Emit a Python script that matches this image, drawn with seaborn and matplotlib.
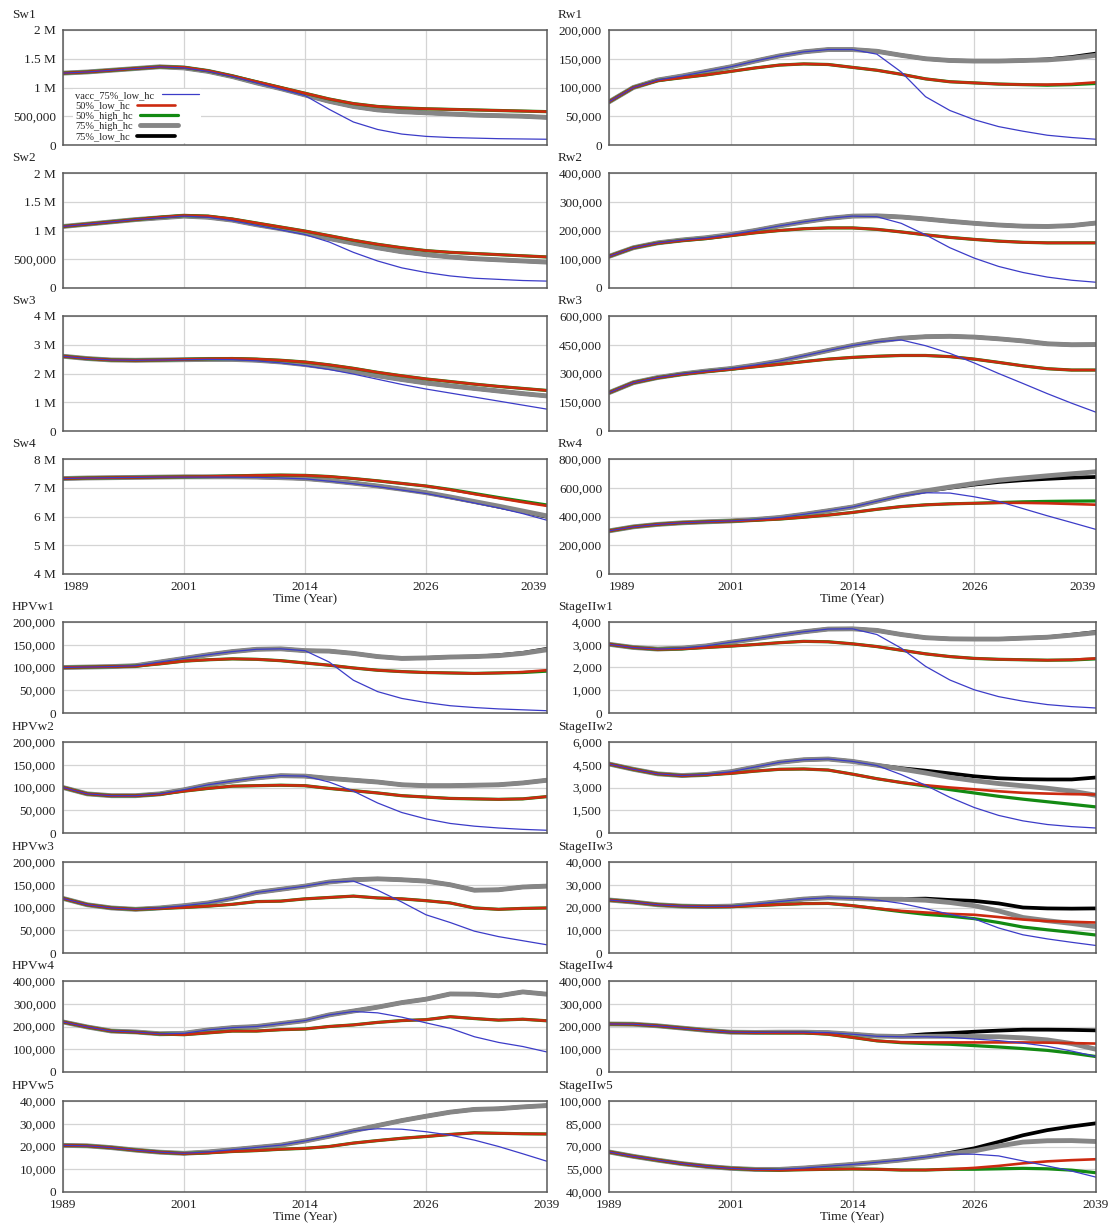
import numpy as np
import matplotlib
matplotlib.use("Agg")
import matplotlib.pyplot as plt
import seaborn as sns

# grille de temps (pas de 2.5 ans)
years = [1989, 1991.5, 1994, 1996.5, 1999, 2001.5, 2004, 2006.5, 2009, 2011.5, 2014,
         2016.5, 2019, 2021.5, 2024, 2026.5, 2029, 2031.5, 2034, 2036.5, 2039]
xtick_pos = [1989, 2001.5, 2014, 2026.5, 2039]
xtick_labels = ["1989", "2001", "2014", "2026", "2039"]

scenarios = ["vacc_75%_low_hc", "50%_low_hc", "50%_high_hc", "75%_high_hc", "75%_low_hc"]

# ---- Sw (millions)
sw1_vacc = [1.25, 1.27, 1.30, 1.33, 1.36, 1.34, 1.28, 1.19, 1.08, 0.97, 0.86, 0.62, 0.40, 0.27, 0.19, 0.15, 0.13, 0.12, 0.11, 0.105, 0.10]
sw1_l50 = [1.25, 1.27, 1.30, 1.33, 1.36, 1.35, 1.29, 1.20, 1.10, 1.00, 0.90, 0.80, 0.72, 0.67, 0.645, 0.63, 0.62, 0.61, 0.60, 0.59, 0.58]
sw1_h50 = sw1_l50
sw1_h75 = [1.25, 1.27, 1.30, 1.33, 1.36, 1.34, 1.28, 1.19, 1.08, 0.98, 0.87, 0.76, 0.67, 0.61, 0.58, 0.56, 0.54, 0.52, 0.51, 0.50, 0.48]
sw1_l75 = sw1_h75

sw2_vacc = [1.07, 1.11, 1.15, 1.19, 1.22, 1.25, 1.23, 1.17, 1.09, 1.01, 0.93, 0.80, 0.62, 0.47, 0.35, 0.27, 0.21, 0.17, 0.15, 0.13, 0.12]
sw2_l50 = [1.07, 1.11, 1.15, 1.19, 1.23, 1.26, 1.25, 1.20, 1.13, 1.06, 0.99, 0.91, 0.83, 0.76, 0.70, 0.65, 0.62, 0.60, 0.58, 0.56, 0.54]
sw2_h50 = sw2_l50
sw2_h75 = [1.07, 1.11, 1.15, 1.19, 1.22, 1.25, 1.23, 1.18, 1.10, 1.03, 0.95, 0.86, 0.78, 0.70, 0.63, 0.58, 0.54, 0.51, 0.49, 0.47, 0.45]
sw2_l75 = sw2_h75

sw3_vacc = [2.60, 2.52, 2.47, 2.46, 2.47, 2.48, 2.49, 2.48, 2.44, 2.37, 2.27, 2.14, 1.98, 1.80, 1.62, 1.46, 1.32, 1.18, 1.04, 0.90, 0.76]
sw3_l50 = [2.60, 2.52, 2.47, 2.46, 2.47, 2.49, 2.51, 2.52, 2.50, 2.46, 2.40, 2.30, 2.18, 2.04, 1.92, 1.81, 1.72, 1.63, 1.55, 1.48, 1.41]
sw3_h50 = sw3_l50
sw3_h75 = [2.60, 2.52, 2.47, 2.46, 2.47, 2.48, 2.49, 2.49, 2.46, 2.40, 2.31, 2.20, 2.07, 1.92, 1.79, 1.67, 1.57, 1.48, 1.39, 1.30, 1.22]
sw3_l75 = sw3_h75

sw4_vacc = [7.32, 7.34, 7.35, 7.36, 7.37, 7.37, 7.37, 7.37, 7.36, 7.34, 7.31, 7.23, 7.14, 7.04, 6.92, 6.80, 6.64, 6.47, 6.30, 6.10, 5.87]
sw4_l50 = [7.32, 7.34, 7.35, 7.36, 7.37, 7.38, 7.39, 7.41, 7.43, 7.44, 7.43, 7.39, 7.32, 7.24, 7.15, 7.06, 6.93, 6.78, 6.64, 6.50, 6.37]
sw4_h50 = [7.32, 7.34, 7.35, 7.36, 7.37, 7.38, 7.39, 7.41, 7.43, 7.44, 7.43, 7.39, 7.32, 7.24, 7.15, 7.06, 6.94, 6.80, 6.66, 6.53, 6.40]
sw4_h75 = [7.32, 7.34, 7.35, 7.36, 7.37, 7.38, 7.38, 7.38, 7.37, 7.35, 7.32, 7.25, 7.16, 7.06, 6.95, 6.83, 6.68, 6.52, 6.36, 6.19, 6.02]
sw4_l75 = [7.32, 7.34, 7.35, 7.36, 7.37, 7.38, 7.38, 7.38, 7.37, 7.35, 7.32, 7.25, 7.16, 7.06, 6.95, 6.83, 6.67, 6.51, 6.34, 6.17, 5.99]

# ---- Rw (milliers)
rw1_vacc = [75, 100, 113, 120, 128, 136, 146, 155, 162, 166, 166, 158, 127, 84, 60, 44, 32, 24, 17, 13, 10]
rw1_l50 = [75, 100, 112, 117, 122, 128, 134, 139, 141, 140, 135, 130, 123, 115, 110, 108, 106, 105, 105, 106, 109]
rw1_h50 = [75, 100, 112, 117, 122, 128, 134, 139, 141, 140, 135, 130, 123, 115, 110, 108, 106, 105, 104, 105, 107]
rw1_h75 = [75, 100, 113, 120, 128, 136, 146, 155, 162, 166, 166, 163, 156, 150, 147, 146, 146, 147, 148, 151, 156]
rw1_l75 = [75, 100, 113, 120, 128, 136, 146, 155, 162, 166, 166, 163, 156, 150, 147, 146, 146, 147, 149, 153, 159]

rw2_vacc = [110, 140, 157, 167, 175, 186, 200, 216, 230, 242, 250, 248, 225, 185, 140, 104, 75, 54, 38, 27, 20]
rw2_l50 = [110, 140, 156, 165, 172, 182, 192, 200, 206, 209, 209, 204, 195, 185, 176, 169, 163, 159, 157, 157, 157]
rw2_h50 = rw2_l50
rw2_h75 = [110, 140, 157, 167, 175, 186, 200, 216, 230, 242, 250, 251, 247, 240, 232, 225, 219, 215, 214, 217, 226]
rw2_l75 = rw2_h75

rw3_vacc = [200, 252, 279, 298, 313, 326, 344, 365, 392, 420, 446, 466, 475, 445, 405, 355, 300, 248, 195, 145, 98]
rw3_l50 = [200, 252, 278, 296, 310, 322, 335, 348, 362, 375, 384, 390, 394, 394, 388, 375, 358, 340, 325, 318, 318]
rw3_h50 = rw3_l50
rw3_h75 = [200, 252, 279, 298, 313, 326, 344, 365, 392, 420, 446, 468, 484, 492, 494, 490, 481, 470, 455, 450, 451]
rw3_l75 = rw3_h75

rw4_vacc = [300, 328, 345, 356, 363, 369, 379, 393, 415, 440, 466, 506, 543, 565, 563, 537, 505, 455, 405, 358, 310]
rw4_l50 = [300, 328, 345, 356, 363, 368, 374, 382, 395, 410, 428, 450, 469, 481, 488, 492, 495, 495, 492, 487, 482]
rw4_h50 = [300, 328, 345, 356, 363, 368, 374, 382, 395, 410, 428, 450, 469, 481, 488, 492, 497, 502, 505, 507, 508]
rw4_h75 = [300, 328, 345, 356, 363, 369, 379, 393, 415, 440, 466, 506, 545, 578, 605, 630, 652, 668, 683, 697, 711]
rw4_l75 = [300, 328, 345, 356, 363, 369, 379, 393, 415, 440, 466, 506, 545, 576, 600, 622, 640, 653, 662, 670, 675]

# ---- HPVw (milliers)
hpv1_vacc = [100, 101, 102, 104, 112, 120, 128, 135, 140, 141, 137, 112, 72, 47, 32, 23, 16, 12, 9, 7, 5]
hpv1_l50 = [100, 101, 102, 103, 108, 114, 117, 119, 118, 115, 110, 105, 99, 94, 91, 89, 88, 87, 88, 90, 94]
hpv1_h50 = [100, 101, 102, 103, 108, 114, 117, 119, 118, 115, 110, 105, 99, 94, 91, 89, 88, 87, 88, 89, 92]
hpv1_h75 = [100, 101, 102, 104, 112, 120, 128, 135, 140, 141, 137, 136, 131, 124, 120, 121, 123, 124, 126, 131, 139]
hpv1_l75 = [100, 101, 102, 104, 112, 120, 128, 135, 140, 141, 137, 136, 131, 124, 120, 121, 123, 124, 127, 132, 141]

hpv2_vacc = [100, 86, 82, 82, 86, 95, 106, 114, 121, 126, 125, 112, 92, 66, 45, 31, 21, 15, 11, 8, 6]
hpv2_l50 = [100, 86, 82, 82, 85, 92, 98, 103, 104, 105, 104, 98, 93, 88, 82, 79, 76, 75, 74, 75, 80]
hpv2_h50 = hpv2_l50
hpv2_h75 = [100, 86, 82, 82, 86, 95, 106, 114, 121, 126, 125, 120, 116, 112, 106, 104, 104, 105, 106, 110, 116]
hpv2_l75 = hpv2_h75

hpv3_vacc = [120, 106, 99, 96, 99, 104, 110, 120, 133, 140, 147, 156, 158, 138, 112, 84, 67, 48, 36, 27, 18]
hpv3_l50 = [120, 106, 99, 96, 98, 100, 103, 107, 113, 114, 119, 122, 125, 121, 119, 115, 110, 99, 96, 98, 99]
hpv3_h50 = hpv3_l50
hpv3_h75 = [120, 106, 99, 96, 99, 104, 110, 120, 133, 140, 147, 156, 161, 163, 161, 158, 150, 138, 139, 145, 147]
hpv3_l75 = hpv3_h75

hpv4_vacc = [220, 198, 180, 176, 168, 170, 185, 195, 200, 213, 226, 251, 266, 260, 241, 216, 192, 155, 130, 112, 88]
hpv4_l50 = [220, 198, 180, 175, 167, 164, 172, 180, 180, 186, 189, 200, 207, 218, 226, 230, 243, 235, 228, 232, 225]
hpv4_h50 = hpv4_l50
hpv4_h75 = [220, 198, 180, 176, 168, 170, 185, 195, 200, 213, 226, 251, 268, 285, 305, 320, 343, 342, 335, 352, 342]
hpv4_l75 = hpv4_h75

hpv5_vacc = [20.5, 20.3, 19.5, 18.4, 17.5, 17.0, 17.6, 18.6, 19.6, 20.6, 22.4, 24.5, 26.9, 27.8, 27.6, 26.5, 25.0, 22.8, 20.0, 16.8, 13.5]
hpv5_l50 = [20.5, 20.3, 19.5, 18.4, 17.5, 16.9, 17.2, 17.8, 18.2, 18.8, 19.2, 20.0, 21.5, 22.6, 23.6, 24.4, 25.3, 26.0, 25.8, 25.6, 25.5]
hpv5_h50 = hpv5_l50
hpv5_h75 = [20.5, 20.3, 19.5, 18.4, 17.5, 17.0, 17.6, 18.6, 19.6, 20.6, 22.4, 24.5, 26.9, 29.2, 31.4, 33.3, 35.1, 36.3, 36.6, 37.4, 38.0]
hpv5_l75 = hpv5_h75

# ---- StageIIw
st1_vacc = [3020, 2880, 2810, 2850, 2950, 3110, 3260, 3420, 3570, 3690, 3700, 3450, 2850, 2050, 1450, 1020, 720, 520, 370, 280, 220]
st1_l50 = [3020, 2880, 2800, 2820, 2880, 2940, 3010, 3090, 3150, 3130, 3040, 2920, 2760, 2600, 2480, 2400, 2360, 2340, 2320, 2340, 2400]
st1_h50 = [3020, 2880, 2800, 2820, 2880, 2940, 3010, 3090, 3150, 3130, 3040, 2920, 2760, 2600, 2480, 2400, 2360, 2340, 2320, 2330, 2380]
st1_h75 = [3020, 2880, 2810, 2850, 2950, 3110, 3260, 3420, 3570, 3690, 3700, 3630, 3450, 3310, 3260, 3250, 3250, 3290, 3330, 3420, 3530]
st1_l75 = [3020, 2880, 2810, 2850, 2950, 3110, 3260, 3420, 3570, 3690, 3700, 3630, 3450, 3310, 3260, 3250, 3250, 3290, 3330, 3440, 3560]

st2_vacc = [4550, 4200, 3900, 3790, 3860, 4040, 4350, 4660, 4830, 4880, 4720, 4450, 3850, 3150, 2350, 1680, 1160, 800, 560, 420, 330]
st2_l50 = [4550, 4200, 3900, 3780, 3840, 3930, 4080, 4200, 4220, 4150, 3880, 3580, 3330, 3150, 3000, 2880, 2750, 2650, 2600, 2560, 2540]
st2_h50 = [4550, 4200, 3900, 3780, 3840, 3930, 4080, 4200, 4220, 4150, 3880, 3580, 3330, 3100, 2860, 2640, 2420, 2230, 2060, 1890, 1720]
st2_h75 = [4550, 4200, 3900, 3790, 3860, 4040, 4350, 4660, 4830, 4880, 4720, 4470, 4220, 3960, 3670, 3450, 3260, 3110, 2950, 2760, 2490]
st2_l75 = [4550, 4200, 3900, 3790, 3860, 4040, 4350, 4660, 4830, 4880, 4720, 4470, 4270, 4110, 3930, 3740, 3610, 3550, 3530, 3530, 3660]

st3_vacc = [23.3, 22.4, 21.2, 20.6, 20.4, 20.6, 21.5, 22.6, 23.7, 24.3, 24.0, 23.3, 21.8, 19.5, 17.0, 15.0, 11.0, 8.0, 6.2, 4.7, 3.3]
st3_l50 = [23.3, 22.4, 21.2, 20.6, 20.4, 20.4, 20.8, 21.3, 21.7, 21.8, 20.8, 19.6, 18.5, 17.8, 17.2, 16.8, 15.8, 14.7, 14.0, 13.7, 13.4]
st3_h50 = [23.3, 22.4, 21.2, 20.6, 20.4, 20.4, 20.8, 21.3, 21.7, 21.8, 20.8, 19.5, 18.2, 17.0, 16.2, 15.1, 13.4, 11.4, 10.2, 9.1, 7.9]
st3_h75 = [23.3, 22.4, 21.2, 20.6, 20.4, 20.6, 21.5, 22.6, 23.7, 24.3, 24.0, 23.6, 23.6, 23.2, 22.2, 20.8, 18.5, 15.6, 14.2, 13.0, 11.6]
st3_l75 = [23.3, 22.4, 21.2, 20.6, 20.4, 20.6, 21.5, 22.6, 23.7, 24.3, 24.0, 23.6, 23.7, 23.9, 23.3, 22.9, 21.8, 20.0, 19.6, 19.5, 19.6]

st4_vacc = [211, 210, 203, 193, 183, 175, 174, 175, 175, 173, 166, 157, 155, 155, 152, 145, 138, 127, 113, 92, 68]
st4_l50 = [211, 210, 203, 193, 183, 175, 173, 172, 172, 166, 152, 137, 131, 130, 130, 130, 130, 130, 129, 127, 125]
st4_h50 = [211, 210, 203, 193, 183, 175, 173, 172, 172, 166, 152, 137, 129, 125, 122, 116, 110, 103, 95, 83, 68]
st4_h75 = [211, 210, 203, 193, 183, 175, 174, 175, 175, 173, 166, 158, 156, 157, 157, 156, 155, 150, 141, 125, 100]
st4_l75 = [211, 210, 203, 193, 183, 175, 174, 175, 175, 173, 166, 158, 158, 166, 171, 177, 182, 186, 186, 185, 183]

st5_vacc = [66.4, 63.5, 61.0, 58.7, 56.9, 55.6, 54.9, 54.9, 55.8, 57.0, 58.2, 59.6, 61.1, 63.0, 65.0, 64.9, 63.8, 60.5, 57.2, 53.8, 49.8]
st5_l50 = [66.4, 63.5, 61.0, 58.7, 56.9, 55.6, 54.8, 54.4, 54.7, 55.0, 55.2, 55.0, 54.5, 54.5, 55.0, 55.9, 57.2, 58.9, 60.2, 61.0, 61.6]
st5_h50 = [66.4, 63.5, 61.0, 58.7, 56.9, 55.6, 54.8, 54.4, 54.7, 55.0, 55.2, 55.0, 54.5, 54.5, 55.0, 55.0, 55.3, 55.6, 55.3, 54.4, 52.7]
st5_h75 = [66.4, 63.5, 61.0, 58.7, 56.9, 55.6, 54.9, 54.9, 55.8, 57.0, 58.2, 59.6, 61.1, 63.0, 65.2, 67.1, 70.3, 72.9, 73.8, 73.9, 73.3]
st5_l75 = [66.4, 63.5, 61.0, 58.7, 56.9, 55.6, 54.9, 54.9, 55.8, 57.0, 58.2, 59.6, 61.1, 63.0, 65.8, 68.8, 73.0, 77.4, 80.8, 83.2, 85.3]

# (titre, unite, ymin, ymax, series dans l'ordre de la legende)
panels_top = [
    [("Sw1", 1e6, 0, 2, [sw1_vacc, sw1_l50, sw1_h50, sw1_h75, sw1_l75]),
     ("Sw2", 1e6, 0, 2, [sw2_vacc, sw2_l50, sw2_h50, sw2_h75, sw2_l75]),
     ("Sw3", 1e6, 0, 4, [sw3_vacc, sw3_l50, sw3_h50, sw3_h75, sw3_l75]),
     ("Sw4", 1e6, 4, 8, [sw4_vacc, sw4_l50, sw4_h50, sw4_h75, sw4_l75])],
    [("Rw1", 1e3, 0, 200, [rw1_vacc, rw1_l50, rw1_h50, rw1_h75, rw1_l75]),
     ("Rw2", 1e3, 0, 400, [rw2_vacc, rw2_l50, rw2_h50, rw2_h75, rw2_l75]),
     ("Rw3", 1e3, 0, 600, [rw3_vacc, rw3_l50, rw3_h50, rw3_h75, rw3_l75]),
     ("Rw4", 1e3, 0, 800, [rw4_vacc, rw4_l50, rw4_h50, rw4_h75, rw4_l75])],
]
panels_bottom = [
    [("HPVw1", 1e3, 0, 200, [hpv1_vacc, hpv1_l50, hpv1_h50, hpv1_h75, hpv1_l75]),
     ("HPVw2", 1e3, 0, 200, [hpv2_vacc, hpv2_l50, hpv2_h50, hpv2_h75, hpv2_l75]),
     ("HPVw3", 1e3, 0, 200, [hpv3_vacc, hpv3_l50, hpv3_h50, hpv3_h75, hpv3_l75]),
     ("HPVw4", 1e3, 0, 400, [hpv4_vacc, hpv4_l50, hpv4_h50, hpv4_h75, hpv4_l75]),
     ("HPVw5", 1e3, 0, 40, [hpv5_vacc, hpv5_l50, hpv5_h50, hpv5_h75, hpv5_l75])],
    [("StageIIw1", 1, 0, 4000, [st1_vacc, st1_l50, st1_h50, st1_h75, st1_l75]),
     ("StageIIw2", 1, 0, 6000, [st2_vacc, st2_l50, st2_h50, st2_h75, st2_l75]),
     ("StageIIw3", 1e3, 0, 40, [st3_vacc, st3_l50, st3_h50, st3_h75, st3_l75]),
     ("StageIIw4", 1e3, 0, 400, [st4_vacc, st4_l50, st4_h50, st4_h75, st4_l75]),
     ("StageIIw5", 1e3, 40, 100, [st5_vacc, st5_l50, st5_h50, st5_h75, st5_l75])],
]

colors = ["#3c3cc8", "#cc2a10", "#138a13", "#868686", "#000000"]
widths = [0.9, 1.9, 2.3, 3.5, 2.7]
draw_order = [4, 3, 2, 1, 0]  # noir en dessous, bleu au dessus

sns.set_style("white")
plt.rcParams["font.family"] = ["Liberation Serif", "DejaVu Serif"]
plt.rcParams["font.size"] = 9.5

W, H = 1110, 1227
fig = plt.figure(figsize=(W / 100, H / 100), dpi=100)


def fmt(v):
    if abs(v) >= 1e6:
        return f"{v / 1e6:g} M"
    return f"{v:,.0f}"


def draw_panel(left, width, top, height, spec, last, top_block, legend=False):
    title, unit, lo, hi, series = spec
    ax = fig.add_axes([left / W, 1 - (top + height) / H, width / W, height / H])
    for k in draw_order:
        sns.lineplot(x=years, y=np.array(series[k]) * unit, ax=ax, color=colors[k],
                     linewidth=widths[k], label=scenarios[k], legend=False)
    ax.set_xlim(1989, 2039)
    ax.set_ylim(lo * unit, hi * unit)
    yt = np.linspace(lo * unit, hi * unit, 5)
    ax.set_yticks(yt)
    ax.set_yticklabels([fmt(v) for v in yt])
    ax.set_xticks(xtick_pos)
    ax.grid(True, color="#d4d4d4", linewidth=0.9)
    for s in ax.spines.values():
        s.set_color("#5a5a5a")
        s.set_linewidth(1.1)
    ax.tick_params(length=0, pad=5, labelsize=9.5, colors="#222222")
    ax.set_ylabel("")
    if last:
        ax.set_xticklabels(xtick_labels)
        if top_block:
            labs = ax.get_xticklabels()
            labs[0].set_ha("left")
            labs[-1].set_ha("right")
        ax.set_xlabel("Time (Year)", labelpad=0, fontsize=9.5, color="#222222")
    else:
        ax.set_xticklabels([])
        ax.set_xlabel("")
    fig.text((left - 51) / W, 1 - (top - 15) / H, title, fontsize=9.5,
             va="center", ha="left", color="#222222")
    if legend:
        h, l = ax.get_legend_handles_labels()
        order = [l.index(n) for n in scenarios]
        leg = ax.legend([h[i] for i in order], [l[i] for i in order], loc="upper left",
                        bbox_to_anchor=(0.01, 0.535), fontsize=7.5, markerfirst=False,
                        handlelength=3.6, labelspacing=0.1, borderpad=0.2,
                        handletextpad=0.7, frameon=True, fancybox=False)
        leg.get_frame().set_edgecolor("none")
        leg.get_frame().set_facecolor("white")
        leg.get_frame().set_alpha(1)
        # texte aligne a gauche comme dans l'original
        try:
            for col in leg._legend_handle_box.get_children():
                col.align = "left"
        except AttributeError:
            pass
    return ax


col_left = [63, 609]
col_width = [484, 487]

top_rows = [30, 173, 316, 459]
for c in range(2):
    for r, spec in enumerate(panels_top[c]):
        draw_panel(col_left[c], col_width[c], top_rows[r], 115, spec,
                   last=(r == 3), top_block=True, legend=(c == 0 and r == 0))

bottom_rows = [622, 742, 862, 981, 1101]
for c in range(2):
    for r, spec in enumerate(panels_bottom[c]):
        draw_panel(col_left[c], col_width[c], bottom_rows[r], 91, spec,
                   last=(r == 4), top_block=False)

fig.savefig("out.png", dpi=100)
